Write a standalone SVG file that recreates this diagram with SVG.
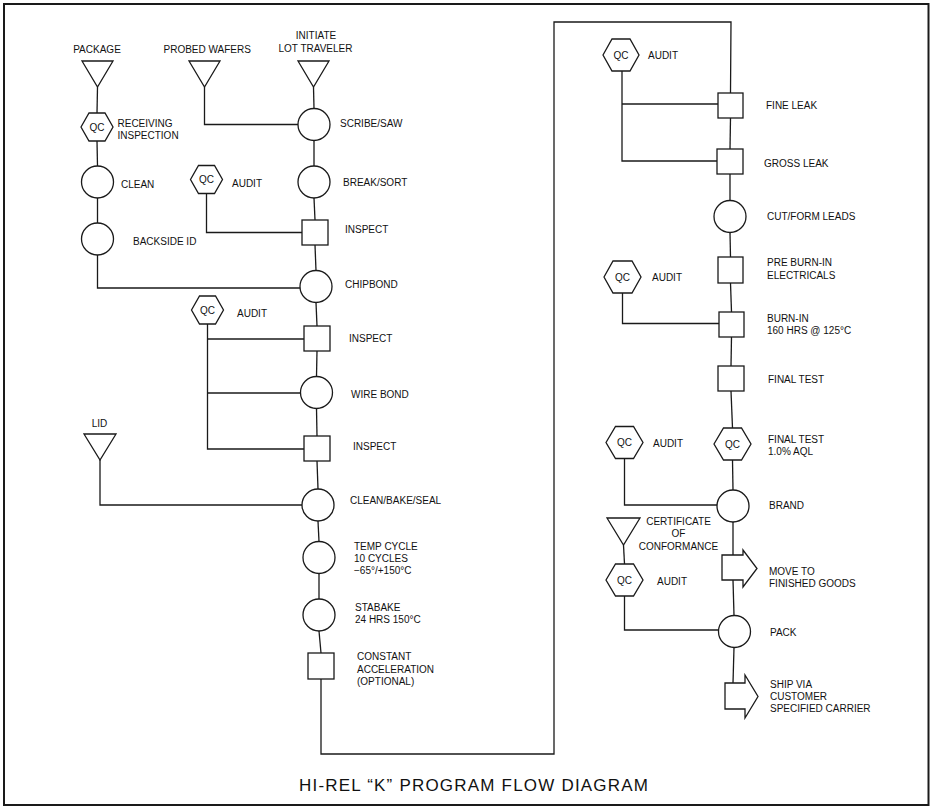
<svg xmlns="http://www.w3.org/2000/svg" width="931" height="808" viewBox="0 0 931 808">
<style>
.s{fill:#fff;stroke:#1a1a1a;stroke-width:1.3}
.c{fill:none;stroke:#1a1a1a;stroke-width:1.3}
text{font-family:"Liberation Sans",Arial,sans-serif;font-size:10px;fill:#111}
.m{text-anchor:middle}
.q{font-size:10px;text-anchor:middle}
.t{font-size:17px;letter-spacing:1.2px}
</style>
<rect x="0" y="0" width="931" height="808" fill="#fff"/>
<rect x="4" y="4" width="924.5" height="801" fill="none" stroke="#1a1a1a" stroke-width="2"/>
<g id="connectors" class="c">
<polyline points="97.5,87 97,113"/>
<polyline points="97,141 97.5,166"/>
<polyline points="97.5,198 97.5,223"/>
<polyline points="97.5,255 97.5,288 300,288"/>
<polyline points="204.5,87 204.5,124.5 298,124.5"/>
<polyline points="313.5,87 314,108.5"/>
<polyline points="314,140.5 314,166"/>
<polyline points="314,198 315,220"/>
<polyline points="206.5,193.5 206.5,232.5 302,232.5"/>
<polyline points="315,245 316,270.5"/>
<polyline points="316,302.5 317,326"/>
<polyline points="317,351 316.5,376.5"/>
<polyline points="316.5,408.5 317,436"/>
<polyline points="317,461 318,489"/>
<polyline points="207.5,324 207.5,449 304,449"/>
<polyline points="207.5,339 304,339"/>
<polyline points="207.5,393 300.5,393"/>
<polyline points="100,460 100,505 302,505"/>
<polyline points="318,521 319,541.5"/>
<polyline points="319,573.5 319,599"/>
<polyline points="319,631 321,653"/>
<polyline points="321,679 321,754 554,754 554,22 731,22 730.5,93"/>
<polyline points="730.5,118 730,149"/>
<polyline points="730,174 730,200.5"/>
<polyline points="730,232.5 730.5,257"/>
<polyline points="730.5,283 731.5,312"/>
<polyline points="731.5,337 731,366"/>
<polyline points="731,391 732.5,428"/>
<polyline points="732.5,460 733,490"/>
<polyline points="733,522 733,555"/>
<polyline points="733,580 734,615.5"/>
<polyline points="734,647.5 733,683"/>
<polyline points="622,71 622,161 717,161"/>
<polyline points="622,104 718,104"/>
<polyline points="622.5,293 622.5,323.5 719,323.5"/>
<polyline points="624.5,458.5 624.5,505 717,505"/>
<polyline points="623.5,545 624.5,564"/>
<polyline points="624.5,596 624.5,630 718.5,630"/>
</g>
<g id="package"><polygon class="s" points="82,61 113,61 97.5,87"/><text class="m" x="97" y="53.3">PACKAGE</text></g>
<g id="probed-wafers"><polygon class="s" points="189,61 220,61 204.5,87"/><text x="163.5" y="53.3">PROBED WAFERS</text></g>
<g id="initiate"><polygon class="s" points="298,61 329,61 313.5,87"/><text class="m" x="316" y="39">INITIATE</text><text class="m" x="315.5" y="52.3">LOT TRAVELER</text></g>
<g id="qc-receiving"><polygon class="s" points="81,127 89,113 105,113 113,127 105,141 89,141"/><text class="q" x="97" y="130.5">QC</text><text x="117.5" y="126.7">RECEIVING</text><text x="117.5" y="138.7">INSPECTION</text></g>
<g id="clean"><circle class="s" cx="97.5" cy="182" r="16"/><text x="121" y="187.5">CLEAN</text></g>
<g id="backside-id"><circle class="s" cx="97.5" cy="239" r="16"/><text x="133" y="244.5">BACKSIDE ID</text></g>
<g id="scribe-saw"><circle class="s" cx="314" cy="124.5" r="16"/><text x="340" y="126.5">SCRIBE/SAW</text></g>
<g id="break-sort"><circle class="s" cx="314" cy="182" r="16"/><text x="343" y="186">BREAK/SORT</text></g>
<g id="qc-audit-1"><polygon class="s" points="190.5,179.5 198.5,165.5 214.5,165.5 222.5,179.5 214.5,193.5 198.5,193.5"/><text class="q" x="206.5" y="183">QC</text><text x="232" y="186.5">AUDIT</text></g>
<g id="inspect-1"><rect class="s" x="302" y="220" width="26" height="25"/><text x="345" y="233.3">INSPECT</text></g>
<g id="chipbond"><circle class="s" cx="316" cy="286.5" r="16"/><text x="345" y="287.7">CHIPBOND</text></g>
<g id="qc-audit-2"><polygon class="s" points="191.5,310 199.5,296 215.5,296 223.5,310 215.5,324 199.5,324"/><text class="q" x="207.5" y="313.5">QC</text><text x="237" y="316.5">AUDIT</text></g>
<g id="inspect-2"><rect class="s" x="304" y="326" width="26" height="25"/><text x="349" y="341.7">INSPECT</text></g>
<g id="wire-bond"><circle class="s" cx="316.5" cy="392.5" r="16"/><text x="351" y="397.5">WIRE BOND</text></g>
<g id="inspect-3"><rect class="s" x="304" y="436" width="26" height="25"/><text x="353" y="450">INSPECT</text></g>
<g id="lid"><polygon class="s" points="84,434 116,434 100,460"/><text class="m" x="99.5" y="426.7">LID</text></g>
<g id="clean-bake-seal"><circle class="s" cx="318" cy="505" r="16"/><text x="350" y="504">CLEAN/BAKE/SEAL</text></g>
<g id="temp-cycle"><circle class="s" cx="319" cy="557.5" r="16"/><text x="354" y="549.5">TEMP CYCLE</text><text x="354" y="561.5">10 CYCLES</text><text x="354" y="573.5">−65°/+150°C</text></g>
<g id="stabake"><circle class="s" cx="319" cy="615" r="16"/><text x="355" y="611">STABAKE</text><text x="355" y="623">24 HRS 150°C</text></g>
<g id="constant-acceleration"><rect class="s" x="308" y="653" width="26" height="26"/><text x="357" y="660">CONSTANT</text><text x="357" y="672.5">ACCELERATION</text><text x="357" y="685">(OPTIONAL)</text></g>
<g id="qc-audit-3"><polygon class="s" points="603,55 612,39 630,39 639,55 630,71 612,71"/><text class="q" x="621" y="58.5">QC</text><text x="648" y="58.5">AUDIT</text></g>
<g id="fine-leak"><rect class="s" x="718" y="93" width="25" height="25"/><text x="766" y="108.5">FINE LEAK</text></g>
<g id="gross-leak"><rect class="s" x="717" y="149" width="26" height="25"/><text x="764" y="166.5">GROSS LEAK</text></g>
<g id="cut-form-leads"><circle class="s" cx="730" cy="216.5" r="16"/><text x="767" y="219.5">CUT/FORM LEADS</text></g>
<g id="pre-burn-in"><rect class="s" x="718" y="257" width="25" height="26"/><text x="767" y="266">PRE BURN-IN</text><text x="767" y="278.5">ELECTRICALS</text></g>
<g id="qc-audit-4"><polygon class="s" points="604,277 613,261 632,261 641,277 632,293 613,293"/><text class="q" x="622.5" y="280.5">QC</text><text x="652" y="280.5">AUDIT</text></g>
<g id="burn-in"><rect class="s" x="719" y="312" width="25" height="25"/><text x="767" y="321.5">BURN-IN</text><text x="767" y="333.5">160 HRS @ 125°C</text></g>
<g id="final-test"><rect class="s" x="718" y="366" width="26" height="25"/><text x="768" y="382.5">FINAL TEST</text></g>
<g id="qc-final-test"><polygon class="s" points="714,444 723.5,428 741.5,428 751,444 741.5,460 723.5,460"/><text class="q" x="732.5" y="447.5">QC</text><text x="768" y="442.5">FINAL TEST</text><text x="768" y="454.5">1.0% AQL</text></g>
<g id="qc-audit-5"><polygon class="s" points="606,442.5 615.5,426.5 633.5,426.5 643,442.5 633.5,458.5 615.5,458.5"/><text class="q" x="624.5" y="446">QC</text><text x="653" y="446.5">AUDIT</text></g>
<g id="brand"><circle class="s" cx="733" cy="506" r="16"/><text x="769" y="508.5">BRAND</text></g>
<g id="certificate"><polygon class="s" points="607,518 640,518 623.5,545"/><text class="m" x="678.5" y="524.5">CERTIFICATE</text><text class="m" x="678.5" y="536.5">OF</text><text class="m" x="678.5" y="549.5">CONFORMANCE</text></g>
<g id="qc-audit-6"><polygon class="s" points="606,580 615.5,564 633.5,564 643,580 633.5,596 615.5,596"/><text class="q" x="624.5" y="583.5">QC</text><text x="657" y="584.5">AUDIT</text></g>
<g id="move-to-finished-goods"><polygon class="s" points="722,555 743,555 743,550 757,568.5 743,587 743,580 722,580"/><text x="769" y="575">MOVE TO</text><text x="769" y="587">FINISHED GOODS</text></g>
<g id="pack"><circle class="s" cx="734.5" cy="631.5" r="16"/><text x="770" y="635.5">PACK</text></g>
<g id="ship-via"><polygon class="s" points="725,683 745,683 745,675 758,696.5 745,718 745,709 725,709"/><text x="770" y="687.5">SHIP VIA</text><text x="770" y="699.5">CUSTOMER</text><text x="770" y="711.5">SPECIFIED CARRIER</text></g>
<g id="title"><text class="t" x="299" y="790.5">HI-REL “K” PROGRAM FLOW DIAGRAM</text></g>
</svg>
